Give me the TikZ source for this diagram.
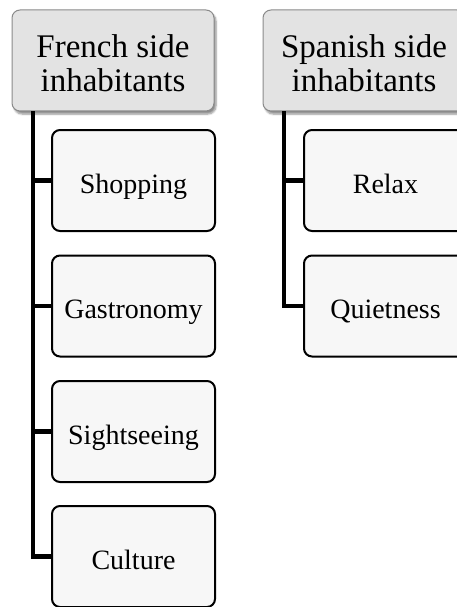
\documentclass[tikz,border=0pt]{standalone}
\usepackage{fontspec}
\setmainfont{Liberation Serif}
\usetikzlibrary{shadows.blur}
\definecolor{headfill}{HTML}{E3E3E3}
\definecolor{headline}{HTML}{8A8A8A}
\definecolor{itemfill}{HTML}{F7F7F7}
% two centred header lines, pushed a little below the box centre
\newcommand{\headlines}[1]{\raisebox{0pt}[\dimexpr\height+15.4pt\relax][\depth]{\begin{tabular}{@{}c@{}}#1\end{tabular}}}
\begin{document}
\begin{tikzpicture}[x=1pt,y=-1pt,
  headbox/.style={draw=headline, line width=1pt, fill=headfill, rounded corners=8pt,
    minimum width=202pt, minimum height=101pt, inner sep=0pt,
    font=\fontsize{33}{34}\selectfont,
    blur shadow={shadow xshift=2pt, shadow yshift=-3pt, shadow blur steps=6, shadow opacity=45}},
  itembox/.style={draw=black, line width=2pt, fill=itemfill, rounded corners=8pt,
    minimum width=163pt, minimum height=101pt, inner sep=0pt,
    text height=25pt, text depth=0pt,
    font=\fontsize{28}{30}\selectfont},
  conn/.style={line width=4.8pt, black}]
\useasboundingbox (0,0) rectangle (456,607);

% column headers
\node[headbox] (fr) at (113,60.5) {\headlines{French side\\inhabitants}};
\node[headbox] (es) at (364,60.5) {\headlines{Spanish side\\inhabitants}};

% French side items
\node[itembox] (shop) at (133.5,180.5) {Shopping};
\node[itembox] (gast) at (133.5,306) {Gastronomy};
\node[itembox] (sight) at (133.5,431.5) {Sightseeing};
\node[itembox] (cult) at (133.5,556.5) {Culture};

% Spanish side items
\node[itembox] (relax) at (385.5,180.5) {Relax};
\node[itembox] (quiet) at (385.5,306) {Quietness};

% trunk start points below each header
\path (fr.south) ++(-80,0) coordinate (frt);
\path (es.south) ++(-80,0) coordinate (est);

% trunks and branches
\draw[conn] (frt) |- (cult.west);
\draw[conn] (frt |- shop.west) -- (shop.west);
\draw[conn] (frt |- gast.west) -- (gast.west);
\draw[conn] (frt |- sight.west) -- (sight.west);
\draw[conn] (est) |- (quiet.west);
\draw[conn] (est |- relax.west) -- (relax.west);
\end{tikzpicture}
\end{document}
